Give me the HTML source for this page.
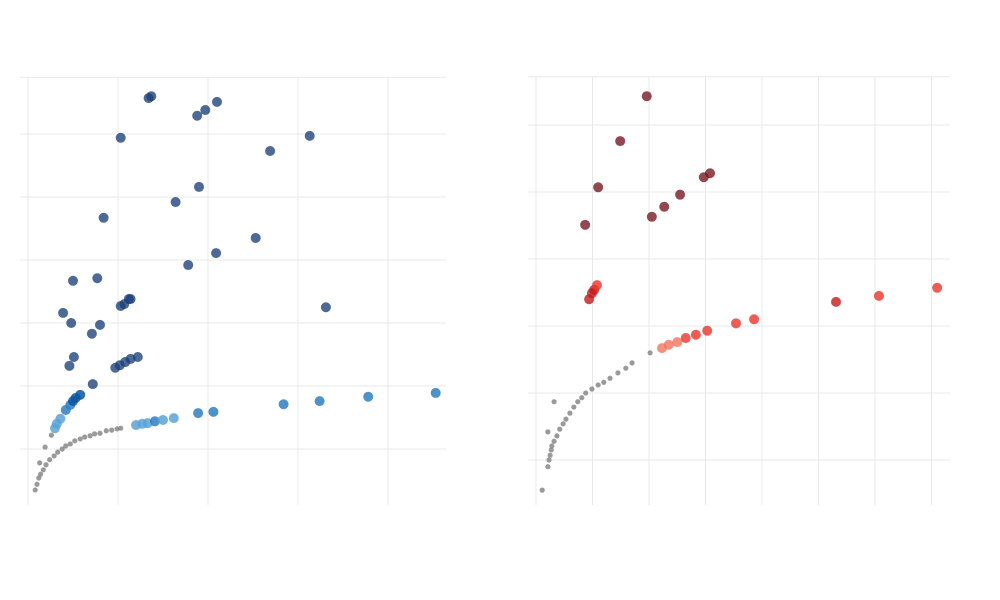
<!DOCTYPE html>
<html><head><meta charset="utf-8"><style>
html,body{margin:0;padding:0;background:#fff;width:1000px;height:600px;overflow:hidden;font-family:"Liberation Sans",sans-serif}
</style></head><body>
<svg id="chart" width="1000" height="600"></svg>
<script>
// Left panel data
const leftGrayX=[0.8,1.0,1.2,1.4,1.7,2.0,2.4,2.9,3.3,3.8,4.2,4.7,5.2,5.8,6.3,6.9,7.4,8.0,8.7,9.3,9.9,10.3,1.3,1.9,2.6];
const leftGrayY=[-6.5,-5.6,-4.6,-4.0,-3.3,-2.5,-1.7,-1.1,-0.5,0,0.5,0.8,1.3,1.6,1.9,2.1,2.4,2.5,2.9,3.0,3.2,3.3,-2.2,0.3,2.2];
const leftNavyX=[13.4,13.7,18.8,19.7,21.0,10.3,31.3,26.9,19.0,16.4,8.4,25.3,17.8,20.9,5.0,7.7,11.4,11.2,10.3,10.7,3.9,4.8,8.0,7.1,33.1,5.1,4.6,9.7,10.2,10.8,11.4,12.2,7.2];
const leftNavyY=[55.7,56.0,52.9,53.8,55.1,49.4,49.7,47.3,41.6,39.2,36.7,33.5,29.2,31.1,26.7,27.1,23.8,23.8,22.7,23.0,21.6,20.0,19.7,18.3,22.5,14.6,13.2,12.9,13.3,13.8,14.3,14.6,10.3];
const leftBlueX=[3.0,3.2,3.6,4.2,4.7,5.0,5.3,5.8,12.0,12.7,13.3,14.1,15.0,16.2,18.9,20.6,28.4,32.4,37.8,45.3];
const leftBlueY=[3.3,4.0,4.8,6.2,7.0,7.6,8.1,8.6,3.8,4.0,4.1,4.4,4.6,4.9,5.7,5.9,7.1,7.6,8.3,8.9];
const leftBlueShade=[0,0,0,1,1,2,2,2,0,0,0,1,0,0,1,1,1,1,1,1];
// Right panel data
const rightGrayX=[1.1,2.1,2.3,2.5,2.7,2.8,3.2,3.7,4.2,4.8,5.3,6.0,6.7,7.4,8.1,8.8,9.9,11.0,12.0,13.1,14.5,15.9,17.0,20.2,2.1,3.2];
const rightGrayY=[-4.5,-1.0,0,0.7,1.5,2.1,2.8,3.6,4.6,5.4,6.1,7.0,7.9,8.7,9.3,10.0,10.6,11.2,11.6,12.2,13.0,13.7,14.5,16.0,4.2,8.7];
const rightRedX=[22.3,23.5,25.0,26.5,28.3,30.3,35.4,38.6,53.1,60.7,71.0,9.4,9.9,10.3,10.8];
const rightRedY=[16.7,17.2,17.6,18.2,18.7,19.3,20.4,21.0,23.6,24.5,25.7,24.0,24.9,25.4,26.1];
const rightRedShade=[0,0,0,1,1,1,1,1,2,1,1,2,2,2,1];
const rightMaroonX=[19.6,14.9,11.0,8.7,20.5,22.7,25.5,29.7,30.8];
const rightMaroonY=[54.3,47.6,40.7,35.1,36.3,37.8,39.6,42.2,42.8];

const NS='http://www.w3.org/2000/svg';
const svg=document.getElementById('chart');
function mk(t,a){const e=document.createElementNS(NS,t);for(const k in a)e.setAttribute(k,a[k]);svg.appendChild(e);return e;}
const L={x0:28,sx:9,y0:449,sy:6.3,left:28,right:446,top:77,bottom:505};
const R={x0:536,sx:5.65,y0:460,sy:6.7,left:536,right:950,top:77,bottom:505};
function px(p,v){return p.x0+v*p.sx;}
function py(p,v){return p.y0-v*p.sy;}
function grid(p,xs,ys,name){
  xs.forEach(v=>{const l=mk('line',{x1:px(p,v),x2:px(p,v),y1:p.top,y2:p.bottom,stroke:'#e8e8e8','stroke-width':1});
    
    });
  ys.forEach(v=>{const l=mk('line',{x1:p.left-8,x2:p.right,y1:py(p,v),y2:py(p,v),stroke:'#e8e8e8','stroke-width':1});
    
    });
}
grid(L,[0,10,20,30,40],[-0,10,20,30,40,50,59],'left');
grid(R,[0,10,20,30,40,50,60,70],[0,10,20,30,40,50,57.2],'right');
function pts(p,X,Y,r,colorFn,op,name){
  X.forEach((v,i)=>{const c=mk('circle',{cx:px(p,v),cy:py(p,Y[i]),r:r,fill:colorFn(i),'fill-opacity':op});
    
    });
}
const blues=['#5aa3d6','#2f7fc2','#0b55a3'];
const reds=['#f4735c','#e8352a','#c41a1a'];
pts(L,leftGrayX,leftGrayY,2.6,()=>'#888',0.85,'left-gray-point');
pts(L,leftNavyX,leftNavyY,5,()=>'#1b3f78',0.78,'left-navy-point');
pts(L,leftBlueX,leftBlueY,5,i=>blues[leftBlueShade[i]],0.85,'left-blue-point');
pts(R,rightGrayX,rightGrayY,2.6,()=>'#888',0.85,'right-gray-point');
pts(R,rightMaroonX,rightMaroonY,5,()=>'#74141f',0.78,'right-maroon-point');
pts(R,rightRedX,rightRedY,5,i=>reds[rightRedShade[i]],0.8,'right-red-point');
</script>
</body></html>
